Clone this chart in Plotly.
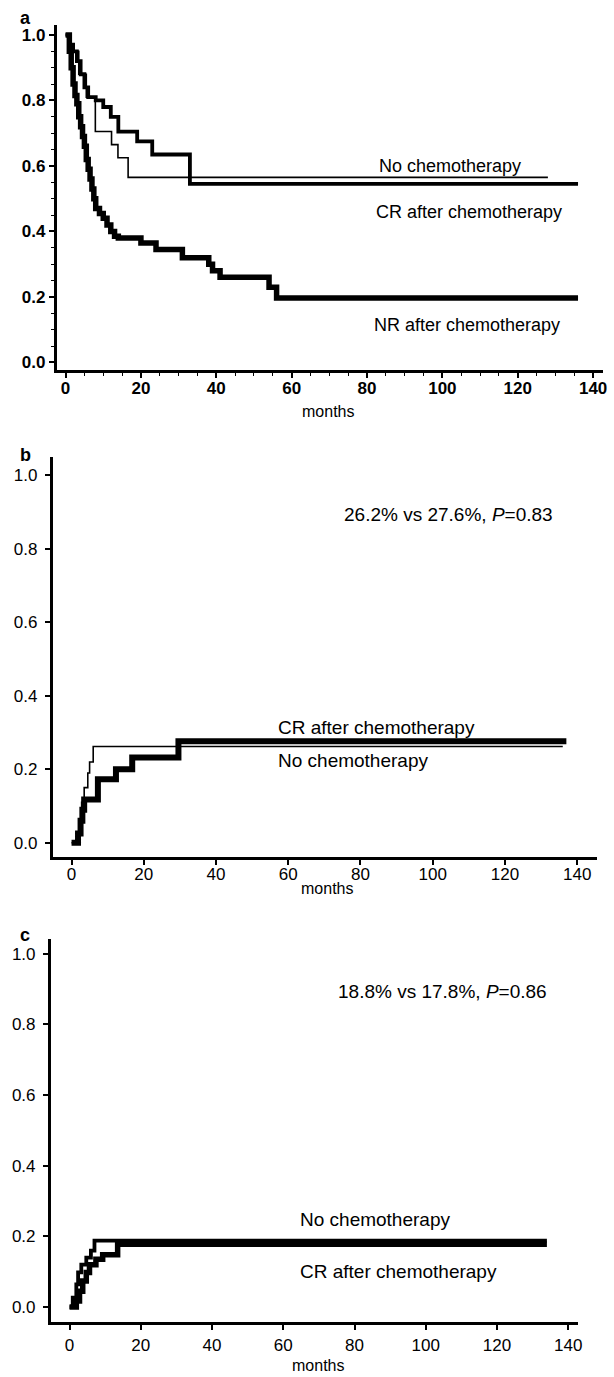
import plotly.graph_objects as go

W, H = 614, 1377

# ---------------- data ----------------
# Panel a: survival
a_nochemo_t = [0, 1.2, 3.5, 5.5, 7.9, 12.2, 13.9, 16.6, 128]
a_nochemo_s = [1.0, 0.95, 0.88, 0.81, 0.705, 0.665, 0.625, 0.565, 0.565]
a_cr_t = [0, 1, 2, 3, 4, 5, 6, 8, 10, 12, 14, 19, 23, 33, 136]
a_cr_s = [1.0, 0.97, 0.95, 0.92, 0.88, 0.84, 0.81, 0.80, 0.78, 0.75, 0.705, 0.675, 0.635, 0.545, 0.545]
a_nr_t = [0, 1, 1.5, 2, 2.5, 3, 3.5, 4, 4.5, 5, 5.5, 6, 6.5, 7, 7.5, 8, 9, 10, 11, 12, 13, 14,
          20, 24, 31, 38, 39, 41, 54, 56, 136]
a_nr_s = [1.0, 0.95, 0.90, 0.85, 0.815, 0.79, 0.75, 0.72, 0.69, 0.66, 0.62, 0.59, 0.56, 0.53, 0.50,
          0.47, 0.455, 0.44, 0.42, 0.40, 0.385, 0.38, 0.365, 0.345, 0.32, 0.30, 0.28, 0.26, 0.23, 0.197, 0.197]

# Panel b: cumulative incidence
b_cr_t = [0, 1.4, 2.3, 2.8, 3.5, 4.5, 5.0, 6.0, 136]
b_cr_s = [0, 0.02, 0.065, 0.11, 0.15, 0.19, 0.22, 0.262, 0.262]
b_nochemo_t = [0, 1.8, 2.5, 3.0, 3.5, 7.3, 12.3, 16.8, 29.6, 137]
b_nochemo_s = [0, 0.025, 0.06, 0.09, 0.118, 0.173, 0.20, 0.232, 0.276, 0.276]

# Panel c: cumulative incidence
c_cr_t = [0, 0.9, 1.9, 2.4, 3.3, 4.7, 6.0, 7.0, 134]
c_cr_s = [0, 0.027, 0.064, 0.098, 0.12, 0.14, 0.16, 0.188, 0.188]
c_nochemo_t = [0, 1.9, 2.8, 3.7, 4.7, 5.6, 7.4, 9.3, 13.5, 134]
c_nochemo_s = [0, 0.017, 0.045, 0.074, 0.098, 0.12, 0.135, 0.148, 0.178, 0.178]

x_ticks = [0, 20, 40, 60, 80, 100, 120, 140]
y_ticks = [0.0, 0.2, 0.4, 0.6, 0.8, 1.0]
y_ticklabels = ["0.0", "0.2", "0.4", "0.6", "0.8", "1.0"]

# ---------------- layout helpers (pixel anchors) ----------------
def px_x(p):
    return p / W

def px_y(p):
    return 1 - p / H

# axis line left/right px, x=0 px, x=140 px, axis top/bottom px, y=1 px, y=0 px
panels = {
    "a": dict(L=57, R=607, X0=66, X140=597, T=25, B=371, Y1=35, Y0=363, stand=-5, ystand=0),
    "b": dict(L=53, R=601, X0=72, X140=581, T=458, B=858, Y1=476, Y0=844, stand=-5, ystand=4),
    "c": dict(L=51, R=582, X0=70, X140=572, T=940, B=1324, Y1=955, Y0=1309, stand=1, ystand=4),
}

fig = go.Figure()

def add_line(t, s, width, axis_idx):
    sfx = "" if axis_idx == 1 else str(axis_idx)
    fig.add_trace(go.Scatter(x=t, y=s, mode="lines", line=dict(color="black", width=width, shape="hv"),
                             xaxis="x" + sfx, yaxis="y" + sfx, showlegend=False, hoverinfo="skip"))

add_line(a_nr_t, a_nr_s, 5.5, 1)
add_line(a_cr_t, a_cr_s, 3.8, 1)
add_line(a_nochemo_t, a_nochemo_s, 1.6, 1)

add_line(b_nochemo_t, b_nochemo_s, 6, 2)
add_line(b_cr_t, b_cr_s, 1.6, 2)

add_line(c_nochemo_t, c_nochemo_s, 5.5, 3)
add_line(c_cr_t, c_cr_s, 3.8, 3)

layout = dict(width=W, height=H, margin=dict(l=0, r=0, t=0, b=0),
              paper_bgcolor="white", plot_bgcolor="white", showlegend=False)

for i, key in enumerate(["a", "b", "c"], start=1):
    g = panels[key]
    kx = (g["X140"] - g["X0"]) / 140.0
    ky = (g["Y0"] - g["Y1"]) / 1.0
    xr = [(g["L"] - g["X0"]) / kx, (g["R"] - g["X0"]) / kx]
    yr = [(g["Y0"] - g["B"]) / ky, (g["Y0"] - g["T"]) / ky]
    sfx = "" if i == 1 else str(i)
    bold = "bold" if key == "a" else "normal"
    xa = dict(
        domain=[px_x(g["L"]), px_x(g["R"])], range=xr, anchor="y" + sfx,
        showgrid=False, zeroline=False, showline=True, linecolor="black", linewidth=2.5,
        ticks="outside", ticklen=5, tickwidth=1.5, tickcolor="black",
        tickvals=x_ticks, ticktext=[str(v) for v in x_ticks], ticklabelstandoff=g["stand"],
        tickfont=dict(family="Liberation Sans", size=17, color="black", weight=bold),
    )
    ya = dict(
        domain=[px_y(g["B"]), px_y(g["T"])], range=yr, anchor="x" + sfx,
        showgrid=False, zeroline=False, showline=True, linecolor="black", linewidth=2.5,
        ticks="outside", ticklen=5, tickwidth=1.5, tickcolor="black",
        tickvals=y_ticks, ticktext=y_ticklabels, ticklabelstandoff=g["ystand"],
        tickfont=dict(family="Liberation Sans", size=17, color="black", weight=bold),
    )
    if key == "a":
        xa["minor"] = dict(dtick=5, tick0=0, ticks="outside", ticklen=3, tickwidth=1, tickcolor="black")
        ya["minor"] = dict(dtick=0.05, tick0=0, ticks="outside", ticklen=3, tickwidth=1, tickcolor="black")
    layout["xaxis" + sfx] = xa
    layout["yaxis" + sfx] = ya

fig.update_layout(**layout)

def note(text, x, y, size=18, xanchor="left", weight="normal"):
    fig.add_annotation(text=text, x=px_x(x), y=px_y(y), xref="paper", yref="paper",
                       xanchor=xanchor, yanchor="middle", showarrow=False,
                       font=dict(family="Liberation Sans", size=size, color="black", weight=weight))

# panel letters
note("a", 18, 18, size=18, weight="bold")
note("b", 18, 456, size=18, weight="bold")
note("c", 18, 936, size=18, weight="bold")

# months labels
note("months", 330, 412, size=16, xanchor="center")
note("months", 329, 890, size=16, xanchor="center")
note("months", 320, 1367, size=16, xanchor="center")

# panel a labels
note("No chemotherapy", 379, 166, size=18)
note("CR after chemotherapy", 376, 212, size=18)
note("NR after chemotherapy", 374, 325, size=18)

# panel b labels
note("26.2% vs 27.6%, <i>P</i>=0.83", 344, 515, size=19)
note("CR after chemotherapy", 278, 729, size=19)
note("No chemotherapy", 278, 762, size=19)

# panel c labels
note("18.8% vs 17.8%, <i>P</i>=0.86", 338, 993, size=19)
note("No chemotherapy", 300, 1221, size=19)
note("CR after chemotherapy", 300, 1273, size=19)

fig.write_html("out.html")
